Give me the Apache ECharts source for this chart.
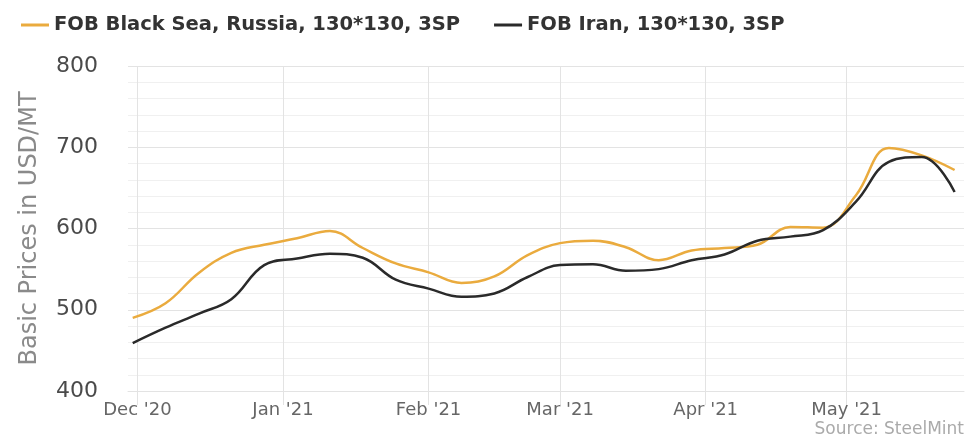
<!DOCTYPE html>
<html>
<head>
<meta charset="utf-8">
<style>
  html, body { margin: 0; padding: 0; background: #fff; }
  #chart { width: 965px; height: 439px; }
</style>
<script src="https://cdn.jsdelivr.net/npm/echarts@6/dist/echarts.min.js"></script>
</head>
<body>
<div id="chart"></div>
<script>
// weekly quotes, USD/MT
var weeks = [
  '2020-11-30', '2020-12-07', '2020-12-14', '2020-12-21', '2020-12-28',
  '2021-01-04', '2021-01-11', '2021-01-18', '2021-01-25',
  '2021-02-01', '2021-02-08', '2021-02-15', '2021-02-22',
  '2021-03-01', '2021-03-08', '2021-03-15', '2021-03-22', '2021-03-29',
  '2021-04-05', '2021-04-12', '2021-04-19', '2021-04-26',
  '2021-05-03', '2021-05-10', '2021-05-17', '2021-05-24'
]
var blackSea = [
  490, 508, 545, 570, 580,
  588, 597, 576, 557,
  546, 533, 541, 567,
  582, 585, 577, 561, 573,
  576, 580, 602, 601,
  641, 699, 690, 672
]
var iran = [
  459, 478, 495, 513, 555,
  563, 569, 564, 537,
  526, 516, 520, 540,
  555, 556, 548, 550, 561,
  568, 585, 590, 598,
  633, 682, 688, 645
]
var seriesNames = ['FOB Black Sea, Russia, 130*130, 3SP', 'FOB Iran, 130*130, 3SP']
var yTicks = [400, 500, 600, 700, 800]

var chart = echarts.init(document.getElementById('chart'))

function pairs(values) {
  return weeks.map(function (d, i) { return [d, values[i]] })
}

var gridColor = '#e3e3e3'

chart.setOption({
  animation: false,
  textStyle: { fontFamily: 'DejaVu Sans' },
  color: ['#eaab3e', '#2a2a2a'],
  legend: {
    left: 16,
    top: 10,
    itemWidth: 28,
    itemHeight: 3,
    itemGap: 34,
    icon: 'rect',
    textStyle: { fontSize: 19.5, fontWeight: 'bold', color: '#333' },
    data: seriesNames
  },
  grid: { left: 128, right: 1, top: 66, bottom: 48 },
  xAxis: {
    type: 'time',
    min: '2020-11-29',
    max: '2021-05-26',
    splitNumber: 6,
    axisLine: { show: true, lineStyle: { color: gridColor } },
    axisTick: { show: true, length: 14, lineStyle: { color: gridColor } },
    splitLine: { show: true, showMinLine: false, showMaxLine: false, lineStyle: { color: gridColor } },
    axisLabel: {
      formatter: "{MMM} '{yy}",
      color: '#666',
      fontSize: 18,
      margin: 10,
      showMinLabel: false,
      showMaxLabel: false
    }
  },
  yAxis: {
    type: 'value',
    min: yTicks[0],
    max: yTicks[yTicks.length - 1],
    interval: 100,
    name: 'Basic Prices in USD/MT',
    nameLocation: 'middle',
    nameGap: 86,
    nameTextStyle: { color: '#8a8a8a', fontSize: 24 },
    axisLine: { show: false },
    axisTick: { show: false },
    axisLabel: { color: '#4a4a4a', fontSize: 22, margin: 30 },
    splitLine: { lineStyle: { color: gridColor } },
    minorTick: { show: false, splitNumber: 5 },
    minorSplitLine: { show: true, lineStyle: { color: '#f0f0f0' } }
  },
  graphic: [{
    type: 'text',
    right: 1,
    bottom: 1,
    style: { text: 'Source: SteelMint', fill: '#aaa', font: '17px "DejaVu Sans"' }
  }],
  series: [
    {
      name: seriesNames[0],
      type: 'line',
      smooth: 0.4,
      showSymbol: false,
      lineStyle: { width: 2.5 },
      data: pairs(blackSea)
    },
    {
      name: seriesNames[1],
      type: 'line',
      smooth: 0.4,
      showSymbol: false,
      lineStyle: { width: 2.5 },
      data: pairs(iran)
    }
  ]
})
</script>
</body>
</html>
